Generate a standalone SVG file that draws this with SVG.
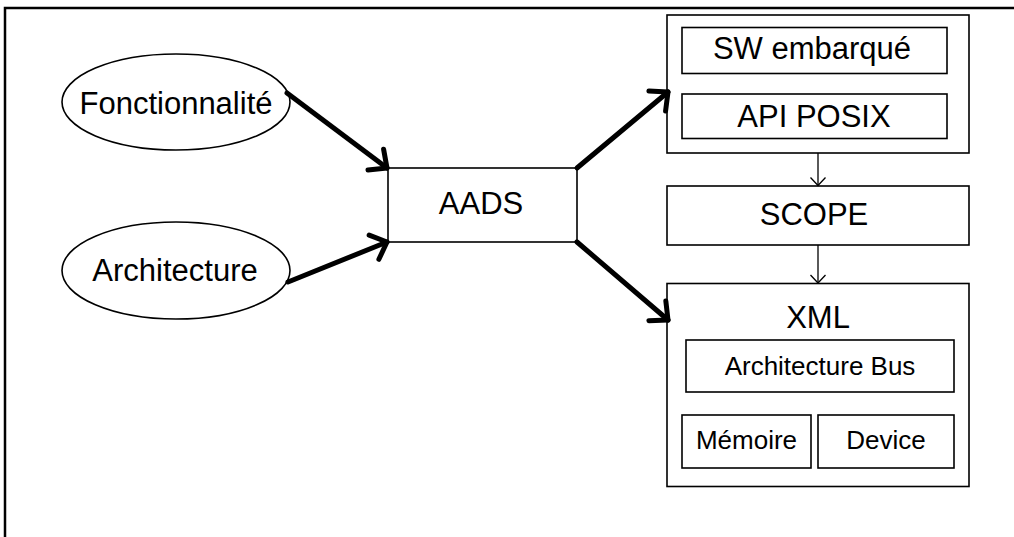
<svg xmlns="http://www.w3.org/2000/svg" width="1014" height="537" viewBox="0 0 1014 537">
<style>
.box{fill:#fff;stroke:#000;stroke-width:1.6}
.t{font-family:"Liberation Sans",Arial,sans-serif;fill:#000;text-anchor:middle}
.big{font-size:31px}
.small{font-size:26px}
.thick{fill:none;stroke:#000;stroke-width:5;stroke-linecap:round}
.thin{fill:none;stroke:#000;stroke-width:1.3}
</style>
<defs>
<marker id="ah" markerUnits="userSpaceOnUse" markerWidth="40" markerHeight="40" viewBox="-20 -20 40 40" refX="0" refY="0" orient="auto" overflow="visible">
<path d="M-14,-13 L0,0 L-14,13" fill="none" stroke="#000" stroke-width="5" stroke-linecap="round" stroke-linejoin="round"/>
</marker>
<marker id="ahs" markerUnits="userSpaceOnUse" markerWidth="20" markerHeight="20" viewBox="-10 -10 20 20" refX="0" refY="0" orient="auto" overflow="visible">
<path d="M-8,-7.5 L0,0 L-8,7.5" fill="none" stroke="#000" stroke-width="1.3"/>
</marker>
</defs>
<rect width="1014" height="537" fill="#fff"/>
<path d="M5,537 V8 H1014" fill="none" stroke="#000" stroke-width="2.5"/>

<g id="fonctionnalite">
<ellipse class="box" cx="176" cy="102" rx="114" ry="48"/>
<text class="t big" x="176" y="114">Fonctionnalité</text>
</g>
<g id="architecture">
<ellipse class="box" cx="176" cy="270.5" rx="114" ry="48.5"/>
<text class="t big" x="175" y="281">Architecture</text>
</g>
<g id="aads">
<rect class="box" x="388" y="168" width="189" height="74"/>
<text class="t big" x="481" y="214">AADS</text>
</g>
<g id="sw">
<rect class="box" x="667" y="15" width="302" height="138"/>
<g id="sw-embarque">
<rect class="box" x="682" y="27.5" width="265" height="46"/>
<text class="t big" x="812" y="59">SW embarqué</text>
</g>
<g id="api-posix">
<rect class="box" x="682" y="94" width="265" height="44.5"/>
<text class="t big" x="814" y="127">API POSIX</text>
</g>
</g>
<g id="scope">
<rect class="box" x="667" y="186" width="302" height="59"/>
<text class="t big" x="814" y="225">SCOPE</text>
</g>
<g id="xml">
<rect class="box" x="667" y="283.5" width="302" height="203"/>
<text class="t big" x="818" y="328">XML</text>
<g id="architecture-bus">
<rect class="box" x="686" y="340" width="268" height="52"/>
<text class="t small" x="820" y="375">Architecture Bus</text>
</g>
<g id="memoire">
<rect class="box" x="682" y="415" width="129" height="53"/>
<text class="t small" x="746.5" y="449">Mémoire</text>
</g>
<g id="device">
<rect class="box" x="818" y="415" width="136" height="53"/>
<text class="t small" x="886" y="449">Device</text>
</g>
</g>

<g id="connectors">
<line class="thick" x1="287" y1="93" x2="387" y2="168" marker-end="url(#ah)"/>
<line class="thick" x1="288" y1="282" x2="387" y2="242" marker-end="url(#ah)"/>
<line class="thick" x1="577" y1="168" x2="668" y2="92" marker-end="url(#ah)"/>
<line class="thick" x1="577" y1="242" x2="668" y2="320" marker-end="url(#ah)"/>
<line class="thin" x1="818" y1="153" x2="818" y2="185.5" marker-end="url(#ahs)"/>
<line class="thin" x1="818" y1="245" x2="818" y2="283" marker-end="url(#ahs)"/>
</g>
</svg>
